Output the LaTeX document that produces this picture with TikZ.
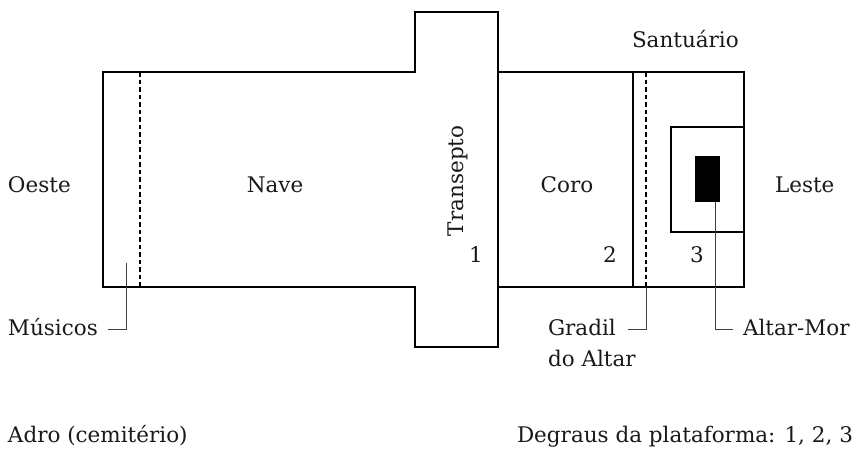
\documentclass[tikz,border=0pt]{standalone}
\usepackage{fontspec}
\setmainfont{DejaVu Serif}
\tikzset{
  wall/.style={draw=black,line width=1.3pt},
  rail/.style={draw=black,line width=1.3pt,dash pattern=on 4.5pt off 3pt},
  leader/.style={draw=black!75,line width=1pt},
  lbl/.style={inner sep=0pt,outer sep=0pt,anchor=base west,font=\fontsize{21.5}{26}\selectfont,text=black!90},
  lblc/.style={lbl,anchor=base}
}
\begin{document}
\begin{tikzpicture}[x=1pt,y=-1pt]
\useasboundingbox (0,0) rectangle (854,448);
% walls
\draw[wall] (415,72) -- (103,72) -- (103,287) -- (415,287) -- (415,347) -- (498,347) -- (498,12) -- (415,12) -- cycle;
\draw[wall] (498,72) -- (744,72) -- (744,287) -- (498,287);
\draw[wall] (633,72) -- (633,287);
\draw[rail] (140,72) -- (140,287);
\draw[rail] (646,72) -- (646,287);
\draw[wall] (744,127) -- (671,127) -- (671,232) -- (744,232);
\node[fill=black,minimum width=25pt,minimum height=46pt,inner sep=0pt,outer sep=0pt] (altar) at (707.5,179) {};
% labels
\node[lbl] (oeste) at (8,192) {Oeste};
\node[lblc] (nave) at (275,192) {Nave};
\node[lblc] (coro) at (567,192) {Coro};
\node[lbl] (leste) at (775,192) {Leste};
\node[lbl] (sant) at (632,47.5) {Santuário};
\node[lbl,rotate=90] (trans) at (463,236) {Transepto};
\node[lblc] (n1) at (476,262) {1};
\node[lblc] (n2) at (610,262) {2};
\node[lblc] (n3) at (697,262) {3};
\node[lbl] (mus) at (8,335.5) {Músicos};
\node[lbl] (grad) at (548,335.5) {Gradil};
\node[lbl] (doal) at (548,366.5) {do Altar};
\node[lbl] (amor) at (743,335.5) {Altar-Mor};
\node[lbl] (adro) at (8,442) {Adro (cemitério)};
\node[lbl] (degr) at (517,442) {Degraus da plataforma: 1, 2, 3};
% leaders
\coordinate (musS) at (126,263);
\coordinate (musE) at (108,329.5);
\coordinate (gradS) at (646,287);
\coordinate (gradE) at (628,329.5);
\coordinate (amorE) at (733,329.5);
\draw[leader] (musS) |- (musE);
\draw[leader] (gradS) |- (gradE);
\draw[leader] (altar.south -| 715.5,0) |- (amorE);
\end{tikzpicture}
\end{document}
